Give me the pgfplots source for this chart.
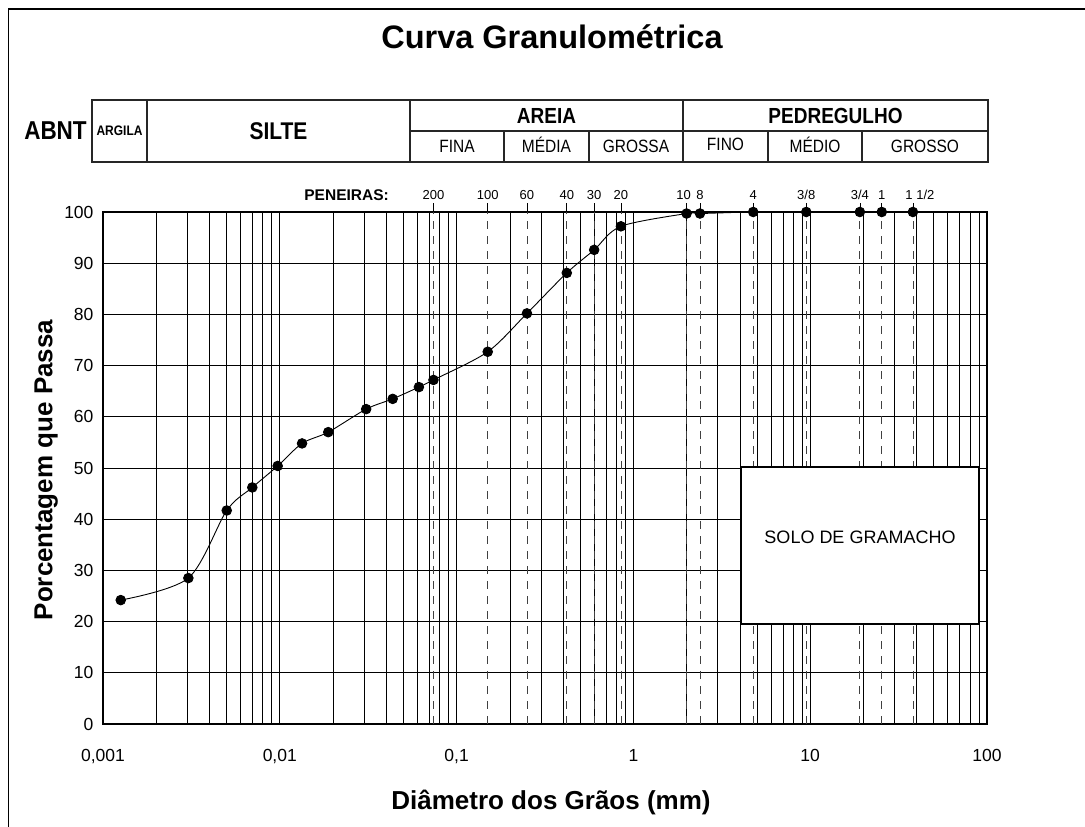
\documentclass[border=0pt]{standalone}
\usepackage{pgfplots}
\pgfplotsset{compat=1.18}
\usepackage{fontspec}
\setmainfont{Liberation Sans}
\newcommand{\T}[4]{\node[anchor=base, inner sep=0pt, font=\fontsize{#3}{#3}\selectfont] at (#1pt, {(#2-0.358*#3)*1pt}) {#4};}
\newcommand{\TS}[4]{\node[anchor=base, inner sep=0pt, font=\fontsize{#3}{#3}\selectfont] at (#1pt, {(#2-0.358*#3*1.15)*1pt}) {\scalebox{1}[1.15]{#4}};}
\pgfplotstableread{
d p
0.00126 24.2
0.00304 28.5
0.00501 41.7
0.00699 46.2
0.00973 50.4
0.01336 54.8
0.0188 57.0
0.0308 61.5
0.0435 63.5
0.0612 65.8
0.074 67.2
0.15 72.7
0.25 80.2
0.42 88.1
0.6 92.6
0.85 97.2
2.0 99.7
2.38 99.7
4.76 100
9.5 100
19.1 100
25.4 100
38.1 100
}\granulo
\begin{document}
\begin{tikzpicture}[sl/.style={anchor=base, inner sep=0pt, font=\fontsize{13}{13}\selectfont, yshift=12.5pt}]
\useasboundingbox (0pt,0pt) rectangle (1085pt,827pt);
% frame
\draw[line width=1.5pt] (8.5pt,-5pt) -- (8.5pt,818pt) -- (1095pt,818pt);
% title
\T{552}{790.3}{32.5}{\bfseries Curva Granulométrica}
% header table
\begin{scope}[line width=1.3pt, draw=black!85]
\draw (92pt,665pt) rectangle (988pt,727pt);
\draw (147pt,665pt) -- (147pt,727pt);
\draw (410pt,665pt) -- (410pt,727pt);
\draw (683pt,665pt) -- (683pt,727pt);
\draw (410pt,696pt) -- (988pt,696pt);
\draw (504pt,665pt) -- (504pt,696pt);
\draw (589pt,665pt) -- (589pt,696pt);
\draw (768pt,665pt) -- (768pt,696pt);
\draw (862pt,665pt) -- (862pt,696pt);
\end{scope}
\TS{55.5}{696.5}{22.5}{\bfseries ABNT}
\TS{119.5}{696.5}{12}{\bfseries ARGILA}
\TS{278.5}{696.5}{21}{\bfseries SILTE}
\TS{546.5}{711.5}{19}{\bfseries AREIA}
\TS{835.5}{711.5}{19}{\bfseries PEDREGULHO}
\TS{457}{680.5}{15.5}{FINA}
\TS{546.5}{680.5}{15.5}{MÉDIA}
\TS{636}{680.5}{15.5}{GROSSA}
\TS{725.5}{682.5}{15.5}{FINO}
\TS{815}{680.5}{15.5}{MÉDIO}
\TS{925}{680.5}{15.5}{GROSSO}
\node[anchor=base east, inner sep=0pt, font=\fontsize{15.5}{15.5}\selectfont\bfseries] at (389pt,626.5pt) {PENEIRAS:};
\begin{axis}[
  at={(103pt,103pt)}, anchor=south west,
  width=884pt, height=512pt, scale only axis,
  xmode=log, xmin=0.001, xmax=100, ymin=0, ymax=100,
  xtick={0.001,0.01,0.1,1,10,100},
  xticklabels={{0,001},{0,01},{0,1},1,10,100},
  minor xtick={0.002,0.003,0.004,0.005,0.006,0.007,0.008,0.009,
    0.02,0.03,0.04,0.05,0.06,0.07,0.08,0.09,
    0.2,0.3,0.4,0.5,0.6,0.7,0.8,0.9,
    2,3,4,5,6,7,8,9,20,30,40,50,60,70,80,90},
  ytick={0,10,20,30,40,50,60,70,80,90,100},
  yticklabels={0,10,20,30,40,50,60,70,80,90,100},
  xmajorgrids, xminorgrids, ymajorgrids,
  major grid style={black, line width=0.6pt},
  minor grid style={black, line width=0.6pt},
  major tick length=0pt, minor tick length=0pt,
  axis line style={black, line width=1.3pt},
  tick label style={font=\fontsize{17.5}{17.5}\selectfont},
  yticklabel style={xshift=-6pt},
  xticklabel style={anchor=base, yshift=-37.5pt},
  clip=false,
]
\pgfplotsinvokeforeach{0.074,0.15,0.25,0.42,0.6,0.85,2.0,2.38,4.76,9.5,19.1,25.4,38.1}{
  \draw[black!75, line width=0.8pt, dash pattern=on 8pt off 7pt] (axis cs:#1,0) -- (axis cs:#1,100);
  \draw[black, line width=0.6pt] (axis cs:#1,100) -- ++(0pt,9pt);
}
\addplot[black, line width=0.9pt, smooth, mark=*, mark size=4.8pt, mark options={fill=black}] table[x=d, y=p] {\granulo};
\node[sl] at (axis cs:0.074,100) {200};
\node[sl] at (axis cs:0.15,100) {100};
\node[sl] at (axis cs:0.25,100) {60};
\node[sl] at (axis cs:0.42,100) {40};
\node[sl] at (axis cs:0.6,100) {30};
\node[sl] at (axis cs:0.85,100) {20};
\node[sl, xshift=-3pt] at (axis cs:2.0,100) {10};
\node[sl] at (axis cs:2.38,100) {8};
\node[sl] at (axis cs:4.76,100) {4};
\node[sl] at (axis cs:9.5,100) {3/8};
\node[sl] at (axis cs:19.1,100) {3/4};
\node[sl] at (axis cs:25.4,100) {1};
\node[sl, xshift=7pt] at (axis cs:38.1,100) {1 1/2};
\end{axis}
% sample box
\draw[line width=1.3pt, fill=white] (741pt,203pt) rectangle (979pt,360pt);
\T{860}{290}{18}{SOLO DE GRAMACHO}
% axis labels
\T{551}{27}{26}{\bfseries Diâmetro dos Grãos (mm)}
\node[anchor=base, inner sep=0pt, rotate=90, font=\fontsize{26}{26}\selectfont\bfseries] at (52.5pt,357pt) {Porcentagem que Passa};
\end{tikzpicture}
\end{document}
